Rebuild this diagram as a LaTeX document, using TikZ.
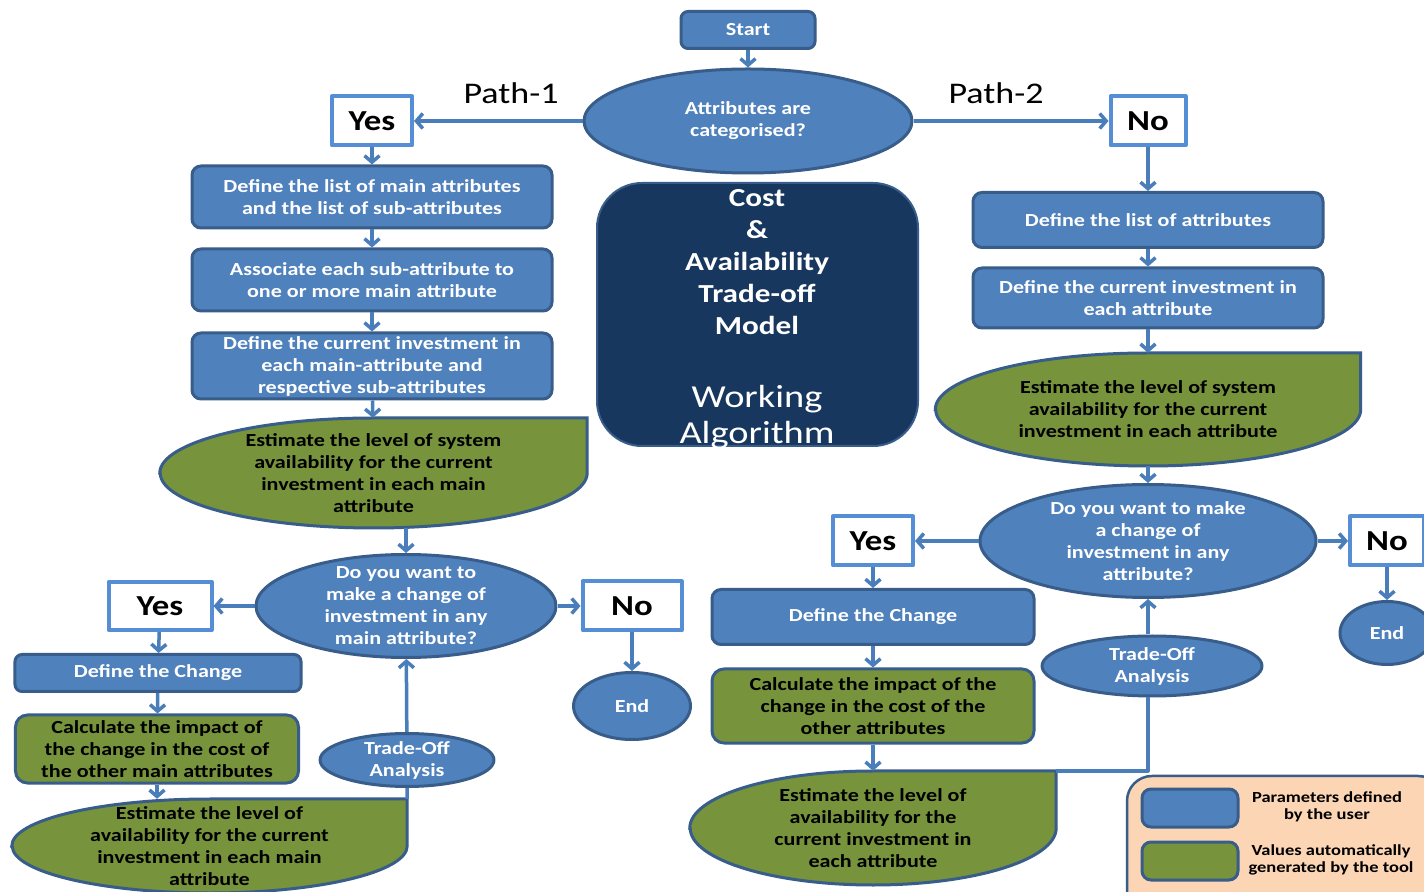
\documentclass[tikz,border=0pt]{standalone}
\usepackage{fontspec}
\setmainfont{Carlito}[FakeStretch=1.2]
\usetikzlibrary{arrows.meta,shapes.geometric,backgrounds}

\definecolor{userblue}{HTML}{4F81BD}
\definecolor{edgeblue}{HTML}{385D8A}
\definecolor{toolgreen}{HTML}{77933C}
\definecolor{answerblue}{HTML}{558ED5}
\definecolor{flowblue}{HTML}{4A7EBB}
\definecolor{navy}{HTML}{17375E}
\definecolor{peach}{HTML}{FCD5B5}

\newcommand{\boxfont}{\bfseries\fontsize{18.4bp}{22bp}\selectfont}

\tikzset{
  userbox/.style={draw=edgeblue, fill=userblue, line width=3bp, rounded corners=9bp,
    text=white, font=\boxfont, align=center, inner sep=0pt},
  toolbox/.style={userbox, fill=toolgreen, text=black},
  toolcloud/.style={font=\boxfont, align=center, inner sep=0pt},
  question/.style={ellipse, draw=edgeblue, fill=userblue, line width=3bp, inner sep=0pt},
  qtext/.style={text=white, font=\boxfont, align=center},
  answer/.style={draw=answerblue, fill=white, line width=4bp, inner sep=0pt,
    font=\bfseries\fontsize{29bp}{32bp}\selectfont},
  flow/.style={draw=flowblue, line width=3.5bp, -{Straight Barb[length=6.5bp,width=15bp]}},
  link/.style={draw=flowblue, line width=3.5bp},
}

% green block: an ellipse whose top right quarter is squared off
\newcommand{\toolshape}[3]{%
  \draw[draw=edgeblue, fill=toolgreen, line width=3bp]
    (#1.west) arc[start angle=180, end angle=90, x radius=#2bp, y radius=#3bp]
    -- (#1.north -| #1.east) -- (#1.east)
    arc[start angle=0, end angle=-180, x radius=#2bp, y radius=#3bp] -- cycle;}

\begin{document}
\begin{tikzpicture}[x=1bp,y=1bp,line join=round]
\useasboundingbox (0,0) rectangle (1424,891);
%%
  \node (start) at (748,861) [userbox, rounded corners=7bp, minimum width=134bp, minimum height=37bp] {Start};
  \node (cat) at (748,770) [question, minimum width=328bp, minimum height=104bp,
    label={[qtext]center:{Attributes are\\categorised?}}] {};
  \node (path1) at (511,798) [font=\fontsize{30bp}{34bp}\selectfont] {Path-1};
  \node (path2) at (996,798) [font=\fontsize{30bp}{34bp}\selectfont] {Path-2};
  \node (yes1) at (372,770) [answer, minimum width=80bp, minimum height=49bp] {Yes};
  \node (no1) at (1148,770) [answer, minimum width=75bp, minimum height=49bp] {No};
%% title block
  \node (model) at (757.5,576.5) [fill=navy, draw=edgeblue, line width=2bp, rounded corners=45bp,
    minimum width=321bp, minimum height=263bp] {};
  \node (title) at (757,629) [text=white, align=center, font=\bfseries\fontsize{26bp}{32bp}\selectfont]
    {Cost\\\&\\Availability\\Trade-off\\Model};
  \node (algo) at (757,474) [text=white, align=center, font=\fontsize{32bp}{36bp}\selectfont]
    {Working\\Algorithm};
%% path 1
  \node (l1) at (372,694) [userbox, minimum width=360bp, minimum height=62bp]
    {Define the list of main attributes\\and the list of sub-attributes};
  \node (l2) at (372,611) [userbox, minimum width=360bp, minimum height=62bp]
    {Associate each sub-attribute to\\one or more main attribute};
  \node (l3) at (372,525) [userbox, minimum width=360bp, minimum height=66bp]
    {Define the current investment in\\each main-attribute and\\respective sub-attributes};
  \node (lest) at (373.5,418) [toolcloud, minimum width=427bp, minimum height=110bp]
    {Estimate the level of system\\availability for the current\\investment in each main\\attribute};
  \node (dl) at (406,285) [question, minimum width=300bp, minimum height=103bp,
    label={[qtext]center:{Do you want to\\make a change of\\investment in any\\main attribute?}}] {};
  \node (yl) at (160,285) [answer, minimum width=103bp, minimum height=48bp] {Yes};
  \node (nl) at (632,285) [answer, minimum width=99bp, minimum height=49bp] {No};
  \node (el) at (632,185) [question, minimum width=117bp, minimum height=67bp,
    label={[qtext]center:End}] {};
  \node (cl) at (158,218) [userbox, rounded corners=7bp, minimum width=286bp, minimum height=37bp]
    {Define the Change};
  \node (kl) at (157,142) [toolbox, rounded corners=12bp, minimum width=283bp, minimum height=68bp]
    {Calculate the impact of\\the change in the cost of\\the other main attributes};
  \node (gl) at (209.5,45) [toolcloud, minimum width=395bp, minimum height=94bp]
    {Estimate the level of\\availability for the current\\investment in each main\\attribute};
  \node (tl) at (407,131) [question, minimum width=174bp, minimum height=53bp,
    label={[qtext]center:{Trade-Off\\Analysis}}] {};
%% path 2
  \node (r1) at (1148,671) [userbox, minimum width=350bp, minimum height=55bp]
    {Define the list of attributes};
  \node (r2) at (1148,593) [userbox, minimum width=350bp, minimum height=60bp]
    {Define the current investment in\\each attribute};
  \node (rest) at (1148,481.5) [toolcloud, minimum width=425bp, minimum height=113bp]
    {Estimate the level of system\\availability for the current\\investment in each attribute};
  \node (dr) at (1148,350) [question, minimum width=336bp, minimum height=113bp,
    label={[qtext]center:{Do you want to make\\a change of\\investment in any\\attribute?}}] {};
  \node (yr) at (873,350) [answer, minimum width=80bp, minimum height=49bp] {Yes};
  \node (nr) at (1387,350) [answer, minimum width=74bp, minimum height=49bp] {No};
  \node (er) at (1387,258) [question, minimum width=94bp, minimum height=63bp,
    label={[qtext]center:End}] {};
  \node (cr) at (873,274) [userbox, minimum width=322bp, minimum height=55bp] {Define the Change};
  \node (kr) at (873,185) [toolbox, rounded corners=12bp, minimum width=322bp, minimum height=74bp]
    {Calculate the impact of the\\change in the cost of the\\other attributes};
  \node (gr) at (873,63) [toolcloud, minimum width=366bp, minimum height=114bp]
    {Estimate the level of\\availability for the\\current investment in\\each attribute};
  \node (tr) at (1152,225) [question, minimum width=220bp, minimum height=60bp,
    label={[qtext]center:{Trade-Off\\Analysis}}] {};
%% key
  \node (key) at (1285,45) [fill=peach, draw=edgeblue, line width=2.5bp, rounded corners=25bp,
    minimum width=316bp, minimum height=140bp] {};
  \node (keyuser) at (1190,83) [userbox, minimum width=96bp, minimum height=38bp] {};
  \node (keytool) at (1190,30) [toolbox, minimum width=96bp, minimum height=38bp] {};
  \node (usernote) at (1327,84) [align=center, font=\bfseries\fontsize{15.4bp}{17bp}\selectfont]
    {Parameters defined\\by the user};
  \node (toolnote) at (1331,31) [align=center, font=\bfseries\fontsize{15.4bp}{17bp}\selectfont]
    {Values automatically\\generated by the tool};
%% green blocks
\begin{scope}[on background layer]
  \fill[white] (0,0) rectangle (1424,891);
  \toolshape{lest}{213.5}{55}
  \toolshape{gl}{197.5}{47}
  \toolshape{rest}{212.5}{56.5}
  \toolshape{gr}{183}{57}
\end{scope}
%% connectors
  \draw[flow] (start) -- (cat);
  \draw[flow] (cat) -- (yes1);
  \draw[flow] (cat) -- (no1);
  \draw[flow] (yes1) -- (l1);
  \draw[flow] (l1) -- (l2);
  \draw[flow] (l2) -- (l3);
  \draw[flow] (l3) -- (lest);
  \draw[flow] (lest.south -| dl.north) -- (dl);
  \draw[flow] (dl) -- (yl);
  \draw[flow] (dl) -- (nl);
  \draw[flow] (nl) -- (el);
  \draw[flow] (yl) -- (cl);
  \draw[flow] (cl) -- (kl);
  \draw[flow] (kl) -- (kl |- gl.north);
  \draw[flow] (tl) -- (dl);
  \draw[link] (tl) -- (gl.north east);
  \draw[flow] (no1) -- (r1);
  \draw[flow] (r1) -- (r2);
  \draw[flow] (r2) -- (rest);
  \draw[flow] (rest) -- (dr);
  \draw[flow] (dr) -- (yr);
  \draw[flow] (dr) -- (nr);
  \draw[flow] (nr) -- (er);
  \draw[flow] (yr) -- (cr);
  \draw[flow] (cr) -- (kr);
  \draw[flow] (kr) -- (gr);
  \draw[flow] (tr.north -| dr.south) -- (dr);
  \draw[link] (tr.south -| dr.south) |- (gr.north east);
%
\end{tikzpicture}
\end{document}
